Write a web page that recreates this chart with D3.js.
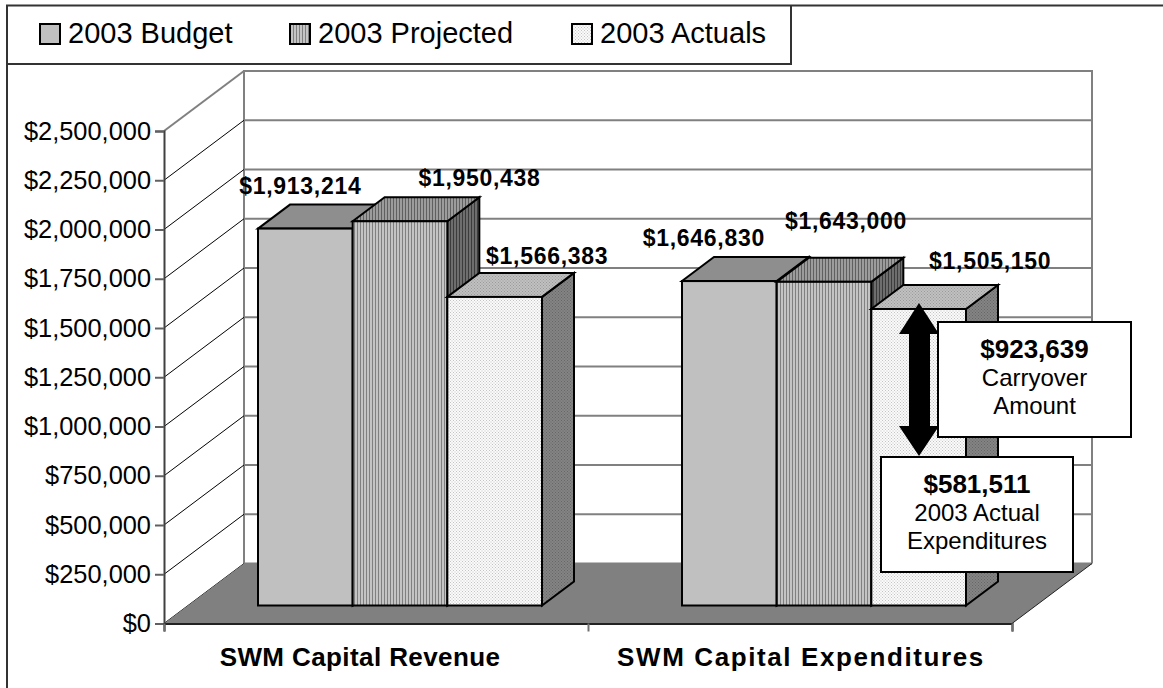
<!DOCTYPE html>
<html>
<head>
<meta charset="utf-8">
<script src="https://cdn.jsdelivr.net/npm/d3@7"></script>
<style>
  html, body { margin: 0; padding: 0; background: #fff; }
  svg { display: block; }
  text { font-family: "Liberation Sans", Arial, sans-serif; fill: #000; }
</style>
</head>
<body>
<div id="chart"></div>
<script>
// data
var categories = ["SWM Capital Revenue", "SWM Capital Expenditures"];
var seriesNames = ["2003 Budget", "2003 Projected", "2003 Actuals"];
var budget = [1913214, 1646830];
var projected = [1950438, 1643000];
var actuals = [1566383, 1505150];
var yTicks = [0, 250000, 500000, 750000, 1000000, 1250000, 1500000, 1750000, 2000000, 2250000, 2500000];
var carryover = ["$923,639", "Carryover", "Amount"];
var actualExp = ["$581,511", "2003 Actual", "Expenditures"];

function init()
{
    var w = 1163;
    var h = 688;
    var x0 = 164;
    var x1 = 1012;
    var y0 = 623.5;
    var yTop = 131;
    var depthX = 80;
    var depthY = -60;
    var barDepthX = 32;
    var barDepthY = -24;
    var gapX = 24;
    var gapY = -18;

    var svg = d3.select("#chart")
                .append("svg")
                .attr("width", w)
                .attr("height", h);

    var defs = svg.append("defs");

    function stripes(id, a, b)
    {
        var p = defs.append("pattern").attr("id", id)
            .attr("patternUnits", "userSpaceOnUse")
            .attr("width", 3).attr("height", 3);
        p.append("rect").attr("width", 3).attr("height", 3).attr("fill", a);
        p.append("rect").attr("width", 1).attr("height", 3).attr("fill", b);
    }
    function dots(id, a, b)
    {
        var p = defs.append("pattern").attr("id", id)
            .attr("patternUnits", "userSpaceOnUse")
            .attr("width", 3).attr("height", 3);
        p.append("rect").attr("width", 3).attr("height", 3).attr("fill", a);
        p.append("rect").attr("width", 1).attr("height", 1).attr("fill", b);
        p.append("rect").attr("x", 1.5).attr("y", 1.5).attr("width", 1).attr("height", 1).attr("fill", b);
    }
    stripes("projFront", "#c4c4c4", "#808080");
    stripes("projTop", "#9c9c9c", "#606060");
    stripes("projSide", "#6e6e6e", "#3c3c3c");
    dots("actFront", "#fafafa", "#c4c4c4");
    dots("actTop", "#c0c0c0", "#9a9a9a");
    dots("actSide", "#848484", "#666666");

    var seriesStyle = [
        { front: "#c0c0c0", top: "#8e8e8e", side: "#606060" },
        { front: "url(#projFront)", top: "url(#projTop)", side: "url(#projSide)" },
        { front: "url(#actFront)", top: "url(#actTop)", side: "url(#actSide)" }
    ];

    var y = d3.scaleLinear().domain([0, 2500000]).range([y0, yTop]);
    var xGroup = d3.scaleBand().domain(categories).range([x0, x1]);
    var xBar = d3.scaleBand().domain(seriesNames)
        .range([70, xGroup.bandwidth() - 70]);
    var xTickScale = d3.scaleLinear().domain([0, categories.length]).range([x0, x1]);

    // back wall
    var wall = svg.append("g");
    wall.selectAll("line.grid")
        .data(yTicks)
        .enter()
        .append("line")
        .attr("x1", x0 + depthX)
        .attr("x2", x1 + depthX)
        .attr("y1", function(d) { return y(d) + depthY; })
        .attr("y2", function(d) { return y(d) + depthY; })
        .attr("stroke", "#808080")
        .attr("stroke-width", 2);

    [x0 + depthX, x1 + depthX].forEach(function(xx) {
        wall.append("line")
            .attr("x1", xx).attr("x2", xx)
            .attr("y1", y(2500000) + depthY - 1)
            .attr("y2", y(0) + depthY)
            .attr("stroke", "#808080")
            .attr("stroke-width", 2);
    });

    // side wall
    wall.selectAll("line.side")
        .data(yTicks)
        .enter()
        .append("line")
        .attr("x1", x0)
        .attr("x2", x0 + depthX)
        .attr("y1", function(d) { return y(d); })
        .attr("y2", function(d) { return y(d) + depthY; })
        .attr("stroke", function(d) { return d === 2500000 ? "#808080" : "#000"; })
        .attr("stroke-width", function(d) { return d === 2500000 ? 2 : 1; });

    // floor
    var floorPts = [[x0, y0], [x1, y0], [x1 + depthX, y0 + depthY], [x0 + depthX, y0 + depthY]];
    wall.append("polygon")
        .attr("points", floorPts.join(" "))
        .attr("fill", "#808080");
    wall.append("line")
        .attr("x1", x1).attr("y1", y0)
        .attr("x2", x1 + depthX).attr("y2", y0 + depthY)
        .attr("stroke", "#222").attr("stroke-width", 1);

    // bars
    var allValues = [budget, projected, actuals];
    var barData = [];
    categories.forEach(function(c, ci) {
        seriesNames.forEach(function(s, si) {
            barData.push({ cat: c, series: s, si: si, value: allValues[si][ci] });
        });
    });

    function barLeft(d) { return xGroup(d.cat) + gapX + xBar(d.series); }
    function barTop(d) { return y(d.value) + gapY; }
    var barBase = y(0) + gapY;

    var bars = svg.selectAll("g.bar")
        .data(barData)
        .enter()
        .append("g")
        .attr("class", "bar")
        .attr("stroke", "#000")
        .attr("stroke-width", 2)
        .attr("stroke-linejoin", "miter");

    bars.append("path")
        .attr("fill", function(d) { return seriesStyle[d.si].side; })
        .attr("d", function(d) {
            var r = barLeft(d) + xBar.bandwidth();
            return d3.line()([[r, barTop(d)], [r + barDepthX, barTop(d) + barDepthY],
                [r + barDepthX, barBase + barDepthY], [r, barBase]]) + "Z";
        });
    bars.append("path")
        .attr("fill", function(d) { return seriesStyle[d.si].top; })
        .attr("d", function(d) {
            var l = barLeft(d), r = l + xBar.bandwidth(), t = barTop(d);
            return d3.line()([[l, t], [l + barDepthX, t + barDepthY],
                [r + barDepthX, t + barDepthY], [r, t]]) + "Z";
        });
    bars.append("rect")
        .attr("x", barLeft)
        .attr("y", barTop)
        .attr("width", xBar.bandwidth())
        .attr("height", function(d) { return barBase - barTop(d); })
        .attr("fill", function(d) { return seriesStyle[d.si].front; });

    // axes
    var yAxis = d3.axisLeft(y).tickValues(yTicks).tickSize(9).tickPadding(4)
        .tickFormat(d3.format("$,"));
    var gy = svg.append("g")
        .attr("transform", "translate(" + x0 + ",0)")
        .call(yAxis);
    gy.select(".domain").attr("stroke", "#404040").attr("stroke-width", 2);
    gy.selectAll(".tick line").attr("stroke", "#606060").attr("stroke-width", 2);
    gy.selectAll(".tick text")
        .style("font-family", '"Liberation Sans", Arial, sans-serif')
        .style("font-size", "25.4px")
        .attr("fill", "#000");

    var xAxis = d3.axisBottom(xTickScale).tickValues(d3.range(categories.length + 1))
        .tickSize(8).tickFormat("");
    var gx = svg.append("g")
        .attr("transform", "translate(0," + y0 + ")")
        .call(xAxis);
    gx.select(".domain").attr("stroke", "#222").attr("stroke-width", 2);
    gx.selectAll(".tick line").attr("stroke", "#707070").attr("stroke-width", 2);

    // category labels, the first one sits left of its band centre in the original
    var catNudge = [-16, 1];
    var catSpacing = [0.4, 1.6];
    svg.selectAll("text.cat")
        .data(categories)
        .enter()
        .append("text")
        .attr("class", "cat")
        .attr("x", function(d, i) { return xGroup(d) + xGroup.bandwidth() / 2 + catNudge[i]; })
        .attr("y", 666)
        .attr("text-anchor", "middle")
        .style("font-size", "26px")
        .style("font-weight", "bold")
        .style("letter-spacing", function(d, i) { return catSpacing[i] + "px"; })
        .text(function(d) { return d; });

    // value labels were hand placed in the original
    var labelDx = [-5, 79.5, 52.5, -25.5, 22, 71.5];
    var labelDy = [-35, -35.5, -33, -35.5, -53, -40];
    svg.selectAll("text.value")
        .data(barData)
        .enter()
        .append("text")
        .attr("class", "value")
        .attr("x", function(d, i) { return barLeft(d) + xBar.bandwidth() / 2 + labelDx[i]; })
        .attr("y", function(d, i) { return barTop(d) + labelDy[i]; })
        .attr("text-anchor", "middle")
        .style("font-size", "23px")
        .style("font-weight", "bold")
        .style("letter-spacing", "0.7px")
        .text(function(d) { return d3.format("$,")(d.value); });

    // legend
    var legend = svg.append("g");
    legend.append("path")
        .attr("d", "M7,688V64H791V5")
        .attr("fill", "none")
        .attr("stroke", "#333")
        .attr("stroke-width", 2);
    legend.append("path")
        .attr("d", "M7,64V5.5H1163")
        .attr("fill", "none")
        .attr("stroke", "#333")
        .attr("stroke-width", 2);
    var legendX = [40, 290, 572];
    var items = legend.selectAll("g.item")
        .data(seriesNames)
        .enter()
        .append("g")
        .attr("class", "item")
        .attr("transform", function(d, i) { return "translate(" + legendX[i] + ",0)"; });
    items.append("rect")
        .attr("y", 24).attr("width", 20).attr("height", 20)
        .attr("stroke", "#000").attr("stroke-width", 2)
        .attr("fill", function(d, i) { return seriesStyle[i].front; });
    items.append("text")
        .attr("x", 28).attr("y", 43)
        .style("font-size", "29px")
        .text(function(d) { return d; });

    // carryover arrow
    var ax = 919;
    var arrow = d3.line()([[ax, 303], [ax + 20, 334], [ax + 11, 334], [ax + 11, 426], [ax + 20, 426],
        [ax, 456], [ax - 20, 426], [ax - 10, 426], [ax - 10, 334], [ax - 20, 334]]) + "Z";
    svg.append("path").attr("d", arrow).attr("fill", "#000");

    // callouts
    function callout(bx, by, bw, bh, lines)
    {
        var g = svg.append("g");
        g.append("rect")
            .attr("x", bx).attr("y", by).attr("width", bw).attr("height", bh)
            .attr("fill", "#fff").attr("stroke", "#000").attr("stroke-width", 2);
        g.selectAll("text")
            .data(lines)
            .enter()
            .append("text")
            .attr("x", bx + bw / 2)
            .attr("y", function(d, i) { return by + 36 + i * 28; })
            .attr("text-anchor", "middle")
            .style("font-size", function(d, i) { return i === 0 ? "26px" : "24px"; })
            .style("font-weight", function(d, i) { return i === 0 ? "bold" : "normal"; })
            .text(function(d) { return d; });
    }
    callout(938, 322, 193, 115, carryover);
    callout(881, 457, 192, 115, actualExp);
}
window.onload = init;
</script>
</body>
</html>
